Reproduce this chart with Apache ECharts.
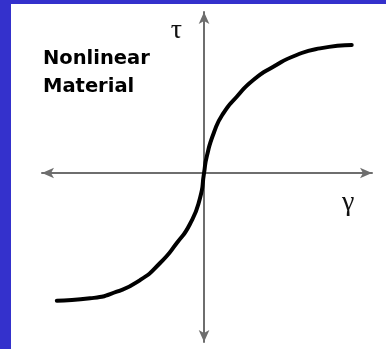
<!DOCTYPE html>
<html>
<head>
<meta charset="utf-8">
<script src="https://cdn.jsdelivr.net/npm/echarts@6/dist/echarts.min.js"></script>
<style>
  html, body { margin: 0; padding: 0; background: #3431cc; }
  #wrap { position: absolute; left: 11px; top: 4px; width: 375px; height: 345px; background: #fff; }
  #chart { width: 375px; height: 345px; }
</style>
</head>
<body>
<div id="wrap"><div id="chart"></div></div>
<script>
// shear strain (gamma) vs shear stress (tau), normalised to the curve ends
var gamma = [-0.995, -0.770, -0.590, -0.432, -0.297, -0.184, -0.095, -0.027, 0,
             0.018, 0.068, 0.130, 0.221, 0.333, 0.468, 0.626, 0.784, 0.998]
var tau = [-0.998, -0.979, -0.927, -0.836, -0.703, -0.547, -0.398, -0.195, 0,
           0.127, 0.320, 0.466, 0.596, 0.727, 0.830, 0.922, 0.974, 1.0]

var points = gamma.map(function (g, i) { return [g, tau[i]] })

var axisColor = '#6e6e6e'

var chart = echarts.init(document.getElementById('chart'))
chart.setOption({
  animation: false,
  backgroundColor: '#fff',
  title: {
    text: 'Nonlinear\nMaterial',
    left: 27,
    top: 36,
    textStyle: {
      fontFamily: 'DejaVu Sans',
      fontWeight: 'bold',
      fontSize: 19.5,
      lineHeight: 28,
      color: '#000'
    }
  },
  grid: { left: 31, right: 14, top: 8, bottom: 7 },
  xAxis: {
    type: 'value',
    min: -1.095,
    max: 1.135,
    name: 'γ',
    nameLocation: 'end',
    nameGap: -30,
    nameTextStyle: {
      fontFamily: 'Liberation Serif',
      fontSize: 28,
      color: '#111',
      align: 'left',
      verticalAlign: 'top',
      padding: [16, 0, 0, 0]
    },
    axisLine: {
      onZero: true,
      symbol: ['arrow', 'arrow'],
      symbolSize: [8, 12],
      lineStyle: { color: axisColor, width: 2 }
    },
    axisTick: { show: false },
    axisLabel: { show: false },
    splitLine: { show: false }
  },
  yAxis: {
    type: 'value',
    min: -1.320,
    max: 1.258,
    name: 'τ',
    nameLocation: 'end',
    nameGap: -5,
    nameTextStyle: {
      fontFamily: 'Liberation Serif',
      fontSize: 28,
      color: '#111',
      align: 'right',
      verticalAlign: 'top',
      padding: [0, 22, 0, 0]
    },
    axisLine: {
      onZero: true,
      symbol: ['arrow', 'arrow'],
      symbolSize: [8, 12],
      lineStyle: { color: axisColor, width: 2 }
    },
    axisTick: { show: false },
    axisLabel: { show: false },
    splitLine: { show: false }
  },
  series: [{
    type: 'line',
    data: points,
    smooth: 0.6,
    symbol: 'none',
    lineStyle: { color: '#000', width: 4, cap: 'round' }
  }]
})
</script>
</body>
</html>
